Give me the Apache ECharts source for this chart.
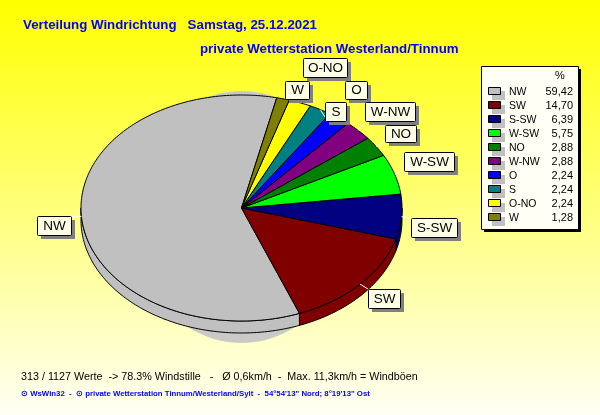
<!DOCTYPE html>
<html><head><meta charset="utf-8">
<style>html,body{margin:0;padding:0;background:#fff}#c{width:600px;height:415px}</style>
<script src="https://cdn.jsdelivr.net/npm/echarts@6/dist/echarts.min.js"></script>
</head><body><div id="c"></div>
<script>
const categories = ['NW','SW','S-SW','W-SW','NO','W-NW','O','S','O-NO','W'];
const percentValues = [59.42,14.70,6.39,5.75,2.88,2.88,2.24,2.24,2.24,1.28];
const percentLabels = ['59,42','14,70','6,39','5,75','2,88','2,88','2,24','2,24','2,24','1,28'];
const sliceColors = ['#c0c0c0','#800000','#000080','#00ff00','#008000','#800080','#0000ff','#008080','#ffff00','#808000'];
const titleLine1 = 'Verteilung Windrichtung   Samstag, 25.12.2021';
const titleLine2 = 'private Wetterstation Westerland/Tinnum';
const statsLine = '313 / 1127 Werte  -> 78.3% Windstille   -   Ø 0,6km/h  -  Max. 11,3km/h = Windböen';
const creditLine = '⊙ WsWin32  -  ⊙ private Wetterstation Tinnum/Westerland/Sylt  -  54°54\'13" Nord; 8°19\'13" Ost';

const START = 12.7, DEPTH = 12;
const total = percentValues.reduce((a,b)=>a+b,0);
let cum = START;
const sliceData = percentValues.map((v,i)=>{
  const end = cum, start = cum - v/total*360; cum = start;
  return {name:categories[i], value:[start,end,i]};
});
const unit = d => [Math.sin(d*Math.PI/180), Math.cos(d*Math.PI/180)];
function arc(api,a,b,dy){
  const pts=[], n=Math.max(2,Math.ceil(Math.abs(b-a)));
  for(let k=0;k<=n;k++){const p=api.coord(unit(a+(b-a)*k/n));pts.push([p[0],p[1]+dy]);}
  return pts;
}
const boxes = {
 'NW':[37,216,34,19,[71,217]],'SW':[368,289,32,19,[368,289]],'S-SW':[411,218,46,19,[411,218]],
 'W-SW':[404,152,50,19,[404,171]],'NO':[385,125,31,17,[385,141]],'W-NW':[365,102,50,19,[365,121]],
 'O':[345,81,22,18,null],'S':[325,102,21,19,[325,117]],'O-NO':[303,58,44,19,null],'W':[285,81,24,18,null]
};
const graphics=[];
const LX=481,LY=66,LW=97,LH=163;
graphics.push({type:'rect',shape:{x:LX+3,y:LY+3,width:LW,height:LH},style:{fill:'#000'},z:1});
graphics.push({type:'rect',shape:{x:LX+.5,y:LY+.5,width:LW,height:LH},style:{fill:'#fffff6',stroke:'#000',lineWidth:1},z:2});
graphics.push({type:'text',x:560,y:76,style:{text:'%',font:'11px "Liberation Sans"',fill:'#000',align:'center',verticalAlign:'middle'},z:3});
categories.forEach((c,i)=>{
  const y=92+i*14;
  graphics.push({type:'rect',shape:{x:492,y:y-1,width:13,height:9},style:{fill:'#c0c0c0'},z:3});
  graphics.push({type:'rect',shape:{x:488.5,y:y-4.5,width:12,height:7},style:{fill:sliceColors[i],stroke:'#000',lineWidth:1},z:4});
  graphics.push({type:'text',x:509,y:y,style:{text:c,font:'10.5px "Liberation Sans"',fill:'#000',align:'left',verticalAlign:'middle'},z:4});
  graphics.push({type:'text',x:573,y:y,style:{text:percentLabels[i],font:'11px "Liberation Sans"',fill:'#000',align:'right',verticalAlign:'middle'},z:4});
});
categories.forEach(c=>{
  const b=boxes[c];
  graphics.push({type:'rect',shape:{x:b[0]+4,y:b[1]+4,width:b[2],height:b[3]},style:{fill:'#808080'},z:20});
  graphics.push({type:'rect',shape:{x:b[0]+.5,y:b[1]+.5,width:b[2],height:b[3],r:1},style:{fill:'#ffffe6',stroke:'#000',lineWidth:1},z:21});
  graphics.push({type:'text',x:b[0]+b[2]/2+.5,y:b[1]+b[3]/2+.5,style:{text:c,font:'13.5px "Liberation Sans"',fill:'#000',align:'center',verticalAlign:'middle'},z:22});
});
const txt=(t,x,y,font,fill)=>graphics.push({type:'text',x,y,style:{text:t,font,fill,align:'left',verticalAlign:'middle'},z:30});
txt(titleLine1,23,25,'bold 13.3px "Liberation Sans"','#0000ff');
txt(titleLine2,200,49,'bold 13.3px "Liberation Sans"','#0000ff');
txt(statsLine,21,377,'10.75px "Liberation Sans"','#000');
txt(creditLine,21,394,'bold 7.8px "Liberation Sans"','#0000ff');

const chart=echarts.init(document.getElementById('c'),null,{renderer:'canvas'});
chart.setOption({
  animation:false,
  backgroundColor:{type:'linear',x:0,y:0,x2:0,y2:1,colorStops:[{offset:0,color:'#ffff00'},{offset:1,color:'#fffff4'}]},
  grid:{left:81,top:95,width:321,height:226,containLabel:false},
  xAxis:{type:'value',min:-1,max:1,show:false},
  yAxis:{type:'value',min:-1,max:1,show:false},
  tooltip:{show:false},
  graphic:{elements:graphics},
  series:[
   {type:'custom',coordinateSystem:'cartesian2d',z:2,silent:true,clip:false,data:[[0,0]],
    renderItem:(p,api)=>{const c=api.coord([0,0]);
      return {type:'ellipse',shape:{cx:c[0],cy:c[1]+9,rx:110,ry:126},style:{fill:'#c9c9c6'}};}},
   {type:'custom',coordinateSystem:'cartesian2d',z:3,silent:true,clip:false,data:sliceData,
    renderItem:(p,api)=>{
      let a=api.value(0), b=api.value(1);
      if(a<0){a+=360;b+=360;}
      const s=Math.max(a,90), e=Math.min(b,270);
      if(e<=s) return null;
      return {type:'polygon',shape:{points:arc(api,s,e,0).concat(arc(api,e,s,DEPTH))},
        style:{fill:sliceColors[api.value(2)],stroke:'#000',lineWidth:1}};
    }},
   {type:'custom',coordinateSystem:'cartesian2d',z:4,silent:true,clip:false,data:sliceData,
    renderItem:(p,api)=>{
      const s=api.value(0), e=api.value(1), c=api.coord([0,0]);
      return {type:'polygon',shape:{points:[c].concat(arc(api,s,e,0))},
        style:{fill:sliceColors[api.value(2)],stroke:'#000',lineWidth:1}};
    }},
   {type:'custom',coordinateSystem:'cartesian2d',z:5,silent:true,clip:false,data:sliceData,
    renderItem:(p,api)=>{
      const b=boxes[categories[api.value(2)]]; if(!b[4]) return null;
      const m=api.coord(unit((api.value(0)+api.value(1))/2));
      return {type:'line',shape:{x1:m[0],y1:m[1],x2:b[4][0],y2:b[4][1]},style:{stroke:'#fff',lineWidth:1}};
    }}
  ]
});
</script></body></html>
